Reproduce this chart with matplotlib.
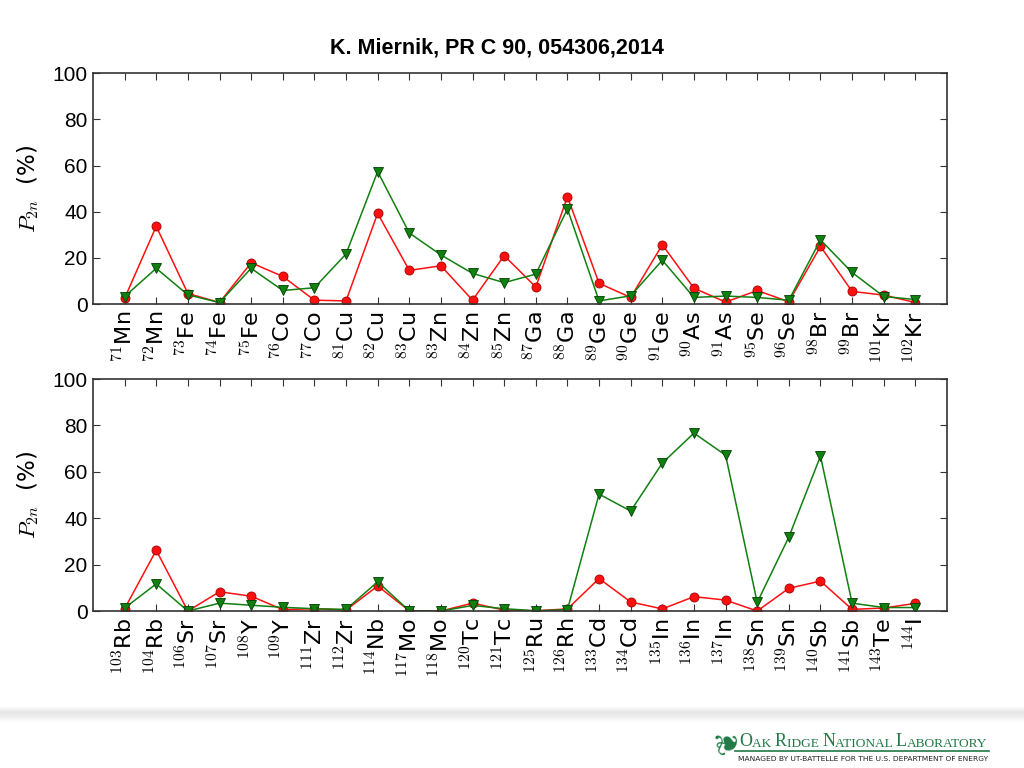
import matplotlib

matplotlib.use("Agg")
import matplotlib.pyplot as plt
import numpy as np

plt.rcParams["mathtext.fontset"] = "cm"

SANS = ["Liberation Sans", "DejaVu Sans"]

TITLE = "K. Miernik, PR C 90, 054306,2014"

# top panel: Mn .. Kr
mass_top = [71, 72, 73, 74, 75, 76, 77, 81, 82, 83, 83, 84, 85, 87, 88,
            89, 90, 91, 90, 91, 95, 96, 98, 99, 101, 102]
elem_top = ["Mn", "Mn", "Fe", "Fe", "Fe", "Co", "Co", "Cu", "Cu", "Cu", "Zn",
            "Zn", "Zn", "Ga", "Ga", "Ge", "Ge", "Ge", "As", "As", "Se", "Se",
            "Br", "Br", "Kr", "Kr"]
red_top = [2.5, 33.7, 4.6, 0.7, 17.9, 12.0, 1.7, 1.4, 39.3, 14.6, 16.6, 1.7,
           21.0, 7.4, 46.5, 9.0, 2.9, 25.7, 6.9, 0.9, 5.9, 1.0, 25.0, 5.5,
           3.9, 0.7]
green_top = [3.3, 15.5, 4.0, 0.7, 15.5, 5.9, 7.1, 21.7, 57.4, 30.8, 21.3,
             13.3, 9.3, 13.0, 41.2, 1.4, 3.6, 19.0, 2.9, 3.5, 2.9, 1.7, 27.8,
             13.7, 3.3, 2.0]

# bottom panel: Rb .. I
mass_bot = [103, 104, 106, 107, 108, 109, 111, 112, 114, 117, 118, 120, 121,
            125, 126, 133, 134, 135, 136, 137, 138, 139, 140, 141, 143, 144]
elem_bot = ["Rb", "Rb", "Sr", "Sr", "Y", "Y", "Zr", "Zr", "Nb", "Mo", "Mo",
            "Tc", "Tc", "Ru", "Rh", "Cd", "Cd", "In", "In", "In", "Sn", "Sn",
            "Sb", "Sb", "Te", "I"]
red_bot = [1.0, 26.2, 0.0, 8.3, 6.4, 0.6, 1.0, 0.4, 10.8, 0.1, 0.0, 3.4, 0.4,
           0.1, 0.9, 14.0, 3.9, 0.9, 6.2, 4.7, 0.0, 9.8, 12.9, 0.7, 1.3, 3.3]
green_bot = [1.3, 11.7, 0.0, 3.4, 2.5, 1.6, 1.0, 0.7, 12.6, 0.1, 0.0, 2.4,
             1.0, 0.1, 0.6, 50.4, 43.1, 63.8, 76.7, 67.2, 3.7, 31.9, 66.8,
             3.4, 1.5, 1.5]

yticks = [0, 20, 40, 60, 80, 100]


def draw_panel(ax, masses, elems, red, green):
    x = np.arange(len(masses))
    ax.plot(x, red, "-o", color="#ff1010", lw=1.1, ms=6.5,
            mec="#a00000", mew=0.6)
    ax.plot(x, green, "-v", color="#108010", lw=1.1, ms=6.5,
            mec="#004000", mew=0.6)
    ax.set_xlim(-1, len(masses))
    ax.set_ylim(0, 100)
    ax.set_xticks(x)
    ax.set_xticklabels([r"$^{%d}$%s" % (m, e) for m, e in zip(masses, elems)],
                       rotation=90, fontsize=16)
    ax.set_yticks(yticks)
    ax.set_yticklabels([str(v) for v in yticks], family=SANS, fontsize=15)
    ax.tick_params(direction="in", length=5, top=True, right=True,
                   color="#333333")
    ax.tick_params(axis="x", pad=5)
    ax.tick_params(axis="y", pad=4)
    for s in ax.spines.values():
        s.set_color("#333333")
        s.set_linewidth(1.2)
    ax.set_ylabel(r"$P_{2n}$  (%)", fontsize=16.5, labelpad=8)


fig = plt.figure(figsize=(10.24, 7.68), dpi=100)

ax1 = fig.add_axes([0.0908, 0.604, 0.834, 0.3008])
draw_panel(ax1, mass_top, elem_top, red_top, green_top)
ax2 = fig.add_axes([0.0908, 0.2044, 0.834, 0.302])
draw_panel(ax2, mass_bot, elem_bot, red_bot, green_bot)

fig.text(0.485, 0.937, TITLE, ha="center", va="center", fontsize=15.5,
         fontweight="bold", family=SANS)

# footer: gray band
band = fig.add_axes([0, 0.058, 1, 0.022])
grad = np.concatenate([np.linspace(1.0, 0.9, 6), np.linspace(0.9, 1.0, 10)])
band.imshow(grad[:, None] * np.ones((1, 4)), cmap="gray", vmin=0, vmax=1,
            aspect="auto")
band.axis("off")

# ORNL logo, small caps built from pieces
green = "#1f7a45"
fig.text(0.711, 0.036, "\u2766", color=green, fontsize=22, rotation=100,
         ha="center", va="center")
pieces = [("O", 13), ("AK ", 9.6), ("R", 13), ("IDGE ", 9.6), ("N", 13),
          ("ATIONAL ", 9.6), ("L", 13), ("ABORATORY", 9.6)]
prev = fig.text(0.722, 0.028, pieces[0][0], color=green, fontsize=pieces[0][1],
                family="Liberation Serif", va="baseline")
for txt, fs in pieces[1:]:
    prev = fig.add_artist(plt.Annotation(txt, xy=(1, 0), xycoords=prev,
                                         va="bottom", ha="left", color=green,
                                         fontsize=fs, family="Liberation Serif"))

fig.add_artist(plt.Line2D([0.718, 0.966], [0.0215, 0.0215], color=green, lw=1.2))
fig.text(0.843, 0.012, "MANAGED BY UT-BATTELLE FOR THE U.S. DEPARTMENT OF ENERGY",
         ha="center", va="center", fontsize=5.4, color="#222222")

fig.savefig("out.png", dpi=100)
